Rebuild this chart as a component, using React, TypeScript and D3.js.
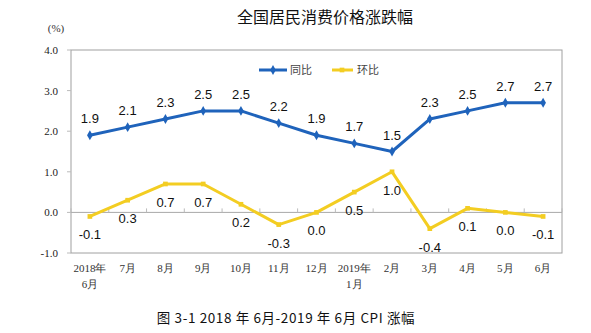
import React from "react";
import * as d3 from "d3";

const categories = ["2018年|6月", "7月", "8月", "9月", "10月", "11月", "12月", "2019年|1月", "2月", "3月", "4月", "5月", "6月"];
const yoy = [1.9, 2.1, 2.3, 2.5, 2.5, 2.2, 1.9, 1.7, 1.5, 2.3, 2.5, 2.7, 2.7];
const mom = [-0.1, 0.3, 0.7, 0.7, 0.2, -0.3, 0.0, 0.5, 1.0, -0.4, 0.1, 0.0, -0.1];
const yTicks = [4, 3, 2, 1, 0, -1];

const BLUE = "#1f63bb";
const YELLOW = "#f3cd22";
const SERIF = "'Liberation Serif', 'DejaVu Serif', serif";
const SANS = "'Liberation Sans', Arial, sans-serif";
const CJK = "'Noto Sans CJK SC', sans-serif";

export default function App() {
  const W = 591, H = 333;
  const left = 71, right = 562, top = 50, bottom = 253;
  const x = d3.scalePoint<number>().domain(d3.range(categories.length)).range([left, right]).padding(0.5);
  const y = d3.scaleLinear().domain([-1, 4]).range([bottom, top]);
  const line = d3.line<number>().x((_, i) => x(i)!).y((d) => y(d));
  const step = x.step();
  const diamond = d3.symbol().type(d3.symbolDiamond).size(28)()!;
  const square = d3.symbol().type(d3.symbolSquare).size(22)()!;

  return (
    <svg width={W} height={H} style={{ position: "absolute", left: 0, top: 0, background: "#fff" }}>
      <text x={325} y={23} textAnchor="middle" fontFamily={CJK} fontSize={16} fill="#111">全国居民消费价格涨跌幅</text>
      <text x={56} y={32} textAnchor="middle" fontFamily={SERIF} fontSize={11} fill="#333">(%)</text>

      <rect x={left} y={top} width={right - left} height={bottom - top} fill="none" stroke="#a0a0a0" strokeWidth={1} />
      {yTicks.map((t) => (
        <g key={t}>
          <line x1={left - 4} x2={left} y1={y(t)} y2={y(t)} stroke="#bbb" />
          <text x={58} y={y(t) + 4} textAnchor="end" fontFamily={SERIF} fontSize={11} fill="#222">{t.toFixed(1)}</text>
        </g>
      ))}
      <line x1={left} x2={right} y1={y(0)} y2={y(0)} stroke="#a8a8a8" />
      {d3.range(categories.length + 1).map((i) => (
        <line key={i} x1={left + i * step} x2={left + i * step} y1={y(0)} y2={y(0) - 4} stroke="#bbb" />
      ))}

      {categories.map((c, i) => {
        const parts = c.split("|");
        return (
          <text key={c} x={x(i)} y={272} textAnchor="middle" fontFamily={SERIF} fontSize={11} fill="#333">
            {parts.map((p, k) => (
              <tspan key={k} x={x(i)} dy={k === 0 ? 0 : 16}>{p}</tspan>
            ))}
          </text>
        );
      })}

      <g>
        <line x1={259} x2={287} y1={70} y2={70} stroke={BLUE} strokeWidth={3} />
        <path d={diamond} transform="translate(273,70)" fill={BLUE} />
        <text x={290} y={74} fontFamily={CJK} fontSize={11} fill="#444">同比</text>
        <line x1={332} x2={353} y1={70} y2={70} stroke={YELLOW} strokeWidth={3} />
        <path d={square} transform="translate(342,70)" fill={YELLOW} />
        <text x={357} y={74} fontFamily={CJK} fontSize={11} fill="#444">环比</text>
      </g>

      <path d={line(yoy)!} fill="none" stroke={BLUE} strokeWidth={3} strokeLinejoin="round" />
      {yoy.map((v, i) => (
        <path key={i} d={diamond} transform={`translate(${x(i)},${y(v)})`} fill={BLUE} />
      ))}
      <path d={line(mom)!} fill="none" stroke={YELLOW} strokeWidth={3} strokeLinejoin="round" />
      {mom.map((v, i) => (
        <path key={i} d={square} transform={`translate(${x(i)},${y(v)})`} fill={YELLOW} />
      ))}

      {yoy.map((v, i) => (
        <text key={i} x={x(i)} y={y(v) - 12} textAnchor="middle" fontFamily={SANS} fontSize={13} fill="#111">{v.toFixed(1)}</text>
      ))}
      {mom.map((v, i) => (
        <text key={i} x={x(i)} y={y(v) + 23} textAnchor="middle" fontFamily={SANS} fontSize={13} fill="#111">{v.toFixed(1)}</text>
      ))}

      <text x={286} y={323} textAnchor="middle" fontFamily={CJK} fontSize={13.5} letterSpacing={0.6} fill="#111">图 3-1 2018 年 6月-2019 年 6月 CPI 涨幅</text>
    </svg>
  );
}
